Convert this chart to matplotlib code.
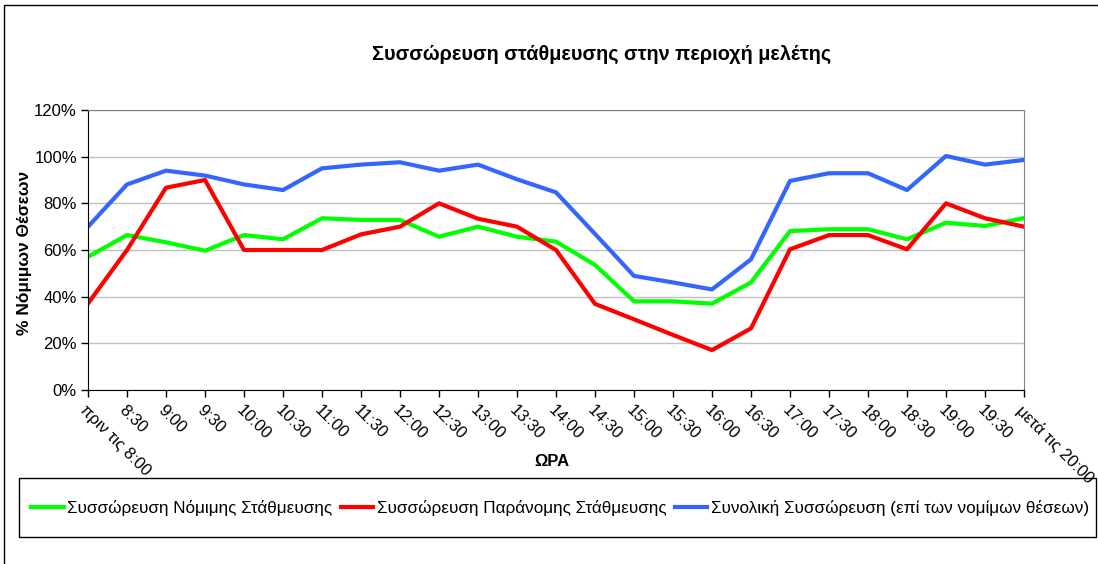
import matplotlib
matplotlib.use("Agg")
import matplotlib.pyplot as plt
from matplotlib.patches import Rectangle
from matplotlib.ticker import FuncFormatter

plt.rcParams['font.family'] = ['Liberation Sans', 'DejaVu Sans']

categories = ["πριν τις 8:00", "8:30", "9:00", "9:30", "10:00", "10:30", "11:00",
              "11:30", "12:00", "12:30", "13:00", "13:30", "14:00", "14:30",
              "15:00", "15:30", "16:00", "16:30", "17:00", "17:30", "18:00",
              "18:30", "19:00", "19:30", "μετά τις 20:00"]

legal = [57.1, 66.4, 63.3, 59.7, 66.4, 64.6, 73.6, 72.9, 72.9, 65.7, 70.0, 65.7, 63.6,
         53.6, 38.0, 38.0, 37.0, 46.1, 68.1, 68.9, 68.9, 64.6, 71.7, 70.3, 73.7]
illegal = [37.1, 60.0, 86.7, 90.0, 60.0, 60.0, 60.0, 66.7, 70.0, 80.0, 73.4, 70.0, 60.0,
           36.9, 30.3, 23.6, 17.1, 26.4, 60.3, 66.4, 66.4, 60.3, 80.0, 73.6, 70.0]
total = [70.0, 88.1, 94.0, 91.9, 88.1, 85.7, 95.0, 96.6, 97.6, 94.0, 96.6, 90.3, 84.7,
         66.9, 48.9, 46.1, 43.1, 56.0, 89.6, 92.9, 92.9, 85.7, 100.3, 96.6, 98.6]

series_names = ["Συσσώρευση Νόμιμης Στάθμευσης",
                "Συσσώρευση Παράνομης Στάθμευσης",
                "Συνολική Συσσώρευση (επί των νομίμων θέσεων)"]
colors = ["#00FF00", "#FF0000", "#3366FF"]

W, H = 1098, 564
fig = plt.figure(figsize=(W / 100, H / 100), dpi=100)

# outer chart border
fig.patches.append(Rectangle((4 / W, -0.05), 1.2, 1 - 5 / H + 0.05, transform=fig.transFigure,
                             fill=False, edgecolor="black", linewidth=1.0))

ax = fig.add_axes([88 / W, 1 - 390 / H, (1024 - 88) / W, (390 - 110) / H])
x = list(range(len(categories)))
lines = []
for vals, c, name in zip([legal, illegal, total], colors, series_names):
    l, = ax.plot(x, vals, color=c, linewidth=3.0, label=name, solid_joinstyle='round')
    lines.append(l)

ax.set_xlim(0, len(categories) - 1)
ax.set_ylim(0, 120)
ax.set_yticks(range(0, 121, 20))
ax.yaxis.set_major_formatter(FuncFormatter(lambda v, p: f"{int(v)}%"))
ax.set_xticks(x)
ax.set_xticklabels(categories, rotation=-45, ha='left', va='top', rotation_mode='anchor')
ax.tick_params(axis='both', direction='out', length=5, width=1, labelsize=12, colors='black')
ax.tick_params(axis='x', pad=4)
ax.tick_params(axis='y', pad=3)
ax.grid(axis='y', color='#C0C0C0', linewidth=1)
ax.set_axisbelow(True)
for s in ['top', 'right']:
    ax.spines[s].set_color('#808080')
for s in ['left', 'bottom']:
    ax.spines[s].set_color('black')

ax.set_ylabel("% Νόμιμων Θέσεων", fontsize=12.5, fontweight='bold')
ax.yaxis.set_label_coords((32 - 88) / 936, 0.49)
fig.text(552 / W, 1 - 462 / H, "ΩΡΑ", fontsize=12, fontweight='bold', ha='center', va='center')
fig.text(602 / W, 1 - 54 / H, "Συσσώρευση στάθμευσης στην περιοχή μελέτης",
         fontsize=14.3, fontweight='bold', ha='center', va='center')

# legend box
fig.patches.append(Rectangle((19 / W, 1 - 537 / H), (1096 - 19) / W, (537 - 478) / H,
                             transform=fig.transFigure, fill=False, edgecolor='black', linewidth=1.0))
fig.legend(handles=lines, loc='center', bbox_to_anchor=(560 / W, 1 - 507.5 / H), ncol=3,
           frameon=False, fontsize=12.3, handlelength=1.9, handletextpad=0.2, columnspacing=0.5)

fig.savefig("out.png", dpi=100)
